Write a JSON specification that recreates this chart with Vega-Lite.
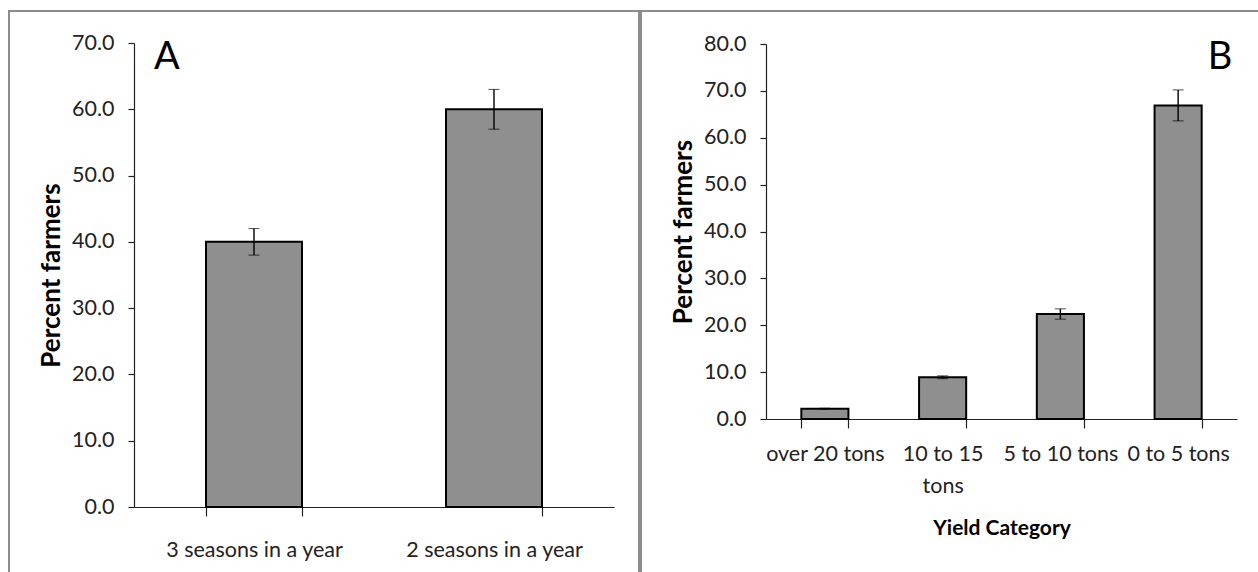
{
  "$schema": "https://vega.github.io/schema/vega-lite/v6.json",
  "padding": {"left": 8, "top": 10, "right": 0, "bottom": 0},
  "spacing": 0,
  "background": "white",
  "config": {
    "view": {"stroke": "#8c8c8c", "strokeWidth": 2},
    "font": "Lato",
    "axis": {
      "labelFont": "Lato",
      "titleFont": "Lato",
      "labelFontSize": 21.5,
      "titleFontSize": 26,
      "titleFontWeight": "bold",
      "labelColor": "#222222",
      "titleColor": "#000000",
      "domainColor": "#222222",
      "tickColor": "#222222",
      "domainWidth": 1.2,
      "tickWidth": 1.2,
      "labelLimit": 0,
      "grid": false
    }
  },
  "hconcat": [
    {
      "width": 630,
      "height": 566,
      "data": {"values": [
        {"category": "3 seasons in a year", "percent": 40.0, "lower": 38.0, "upper": 42.0},
        {"category": "2 seasons in a year", "percent": 60.0, "lower": 57.0, "upper": 63.0}
      ]},
      "encoding": {
        "x": {"field": "category", "type": "nominal", "sort": null,
          "scale": {"range": [125, 605], "paddingInner": 0.6, "paddingOuter": 0.3},
          "axis": {"orient": "bottom", "offset": -70, "title": null, "labelAngle": 0, "tickBand": "extent", "tickSize": 9, "labelPadding": 23}}
      },
      "layer": [
        {
          "mark": {"type": "bar", "fill": "#8f8f8f", "stroke": "#000000", "strokeWidth": 2},
          "encoding": {
            "y": {"field": "percent", "type": "quantitative",
              "scale": {"domain": [0, 70], "range": [496, 32], "nice": false},
              "axis": {"offset": -125, "values": [0, 10, 20, 30, 40, 50, 60, 70], "format": ".1f", "tickSize": 6, "labelPadding": 14, "title": "Percent farmers", "titlePadding": 7}}
          }
        },
        {
          "mark": {"type": "errorbar", "color": "#000000", "ticks": {"size": 11, "strokeWidth": 1.4}, "rule": {"strokeWidth": 1.4}},
          "encoding": {
            "y": {"field": "lower", "type": "quantitative", "title": "Percent farmers"},
            "y2": {"field": "upper"}
          }
        },
        {
          "data": {"values": [{"panel": "A"}]},
          "mark": {"type": "text", "align": "left", "baseline": "alphabetic", "font": "Lato", "fontSize": 38, "dx": -52, "dy": 26, "color": "#000000"},
          "encoding": {
            "text": {"field": "panel", "type": "nominal"},
            "x": {"datum": "3 seasons in a year", "type": "nominal", "bandPosition": 0},
            "y": {"datum": 70, "type": "quantitative"}
          }
        }
      ]
    },
    {
      "width": 624,
      "height": 566,
      "data": {"values": [
        {"category": "over 20 tons", "percent": 2.2, "lower": 2.1, "upper": 2.3},
        {"category": "10 to 15 tons", "percent": 8.9, "lower": 8.6, "upper": 9.2},
        {"category": "5 to 10 tons", "percent": 22.4, "lower": 21.3, "upper": 23.5},
        {"category": "0 to 5 tons", "percent": 66.9, "lower": 63.6, "upper": 70.2}
      ]},
      "encoding": {
        "x": {"field": "category", "type": "nominal", "sort": null,
          "scale": {"range": [125, 596], "paddingInner": 0.6, "paddingOuter": 0.3},
          "axis": {"orient": "bottom", "offset": -158, "title": "Yield Category", "titleFontSize": 21, "titlePadding": 21, "labelAngle": 0, "tickBand": "extent", "tickSize": 9, "labelPadding": 15, "labelLineHeight": 32,
            "labelExpr": "datum.value == '10 to 15 tons' ? ['10 to 15', 'tons'] : datum.label"}}
      },
      "layer": [
        {
          "mark": {"type": "bar", "fill": "#8f8f8f", "stroke": "#000000", "strokeWidth": 2},
          "encoding": {
            "y": {"field": "percent", "type": "quantitative",
              "scale": {"domain": [0, 80], "range": [408, 33], "nice": false},
              "axis": {"offset": -125, "values": [0, 10, 20, 30, 40, 50, 60, 70, 80], "format": ".1f", "tickSize": 6, "labelPadding": 14, "title": "Percent farmers", "titlePadding": 7}}
          }
        },
        {
          "mark": {"type": "errorbar", "color": "#000000", "ticks": {"size": 11, "strokeWidth": 1.4}, "rule": {"strokeWidth": 1.4}},
          "encoding": {
            "y": {"field": "lower", "type": "quantitative", "title": "Percent farmers"},
            "y2": {"field": "upper"}
          }
        },
        {
          "data": {"values": [{"panel": "B"}]},
          "mark": {"type": "text", "align": "left", "baseline": "alphabetic", "font": "Lato", "fontSize": 38, "dx": 6, "dy": 25, "color": "#000000"},
          "encoding": {
            "text": {"field": "panel", "type": "nominal"},
            "x": {"datum": "0 to 5 tons", "type": "nominal", "bandPosition": 1},
            "y": {"datum": 80, "type": "quantitative"}
          }
        }
      ]
    }
  ]
}
